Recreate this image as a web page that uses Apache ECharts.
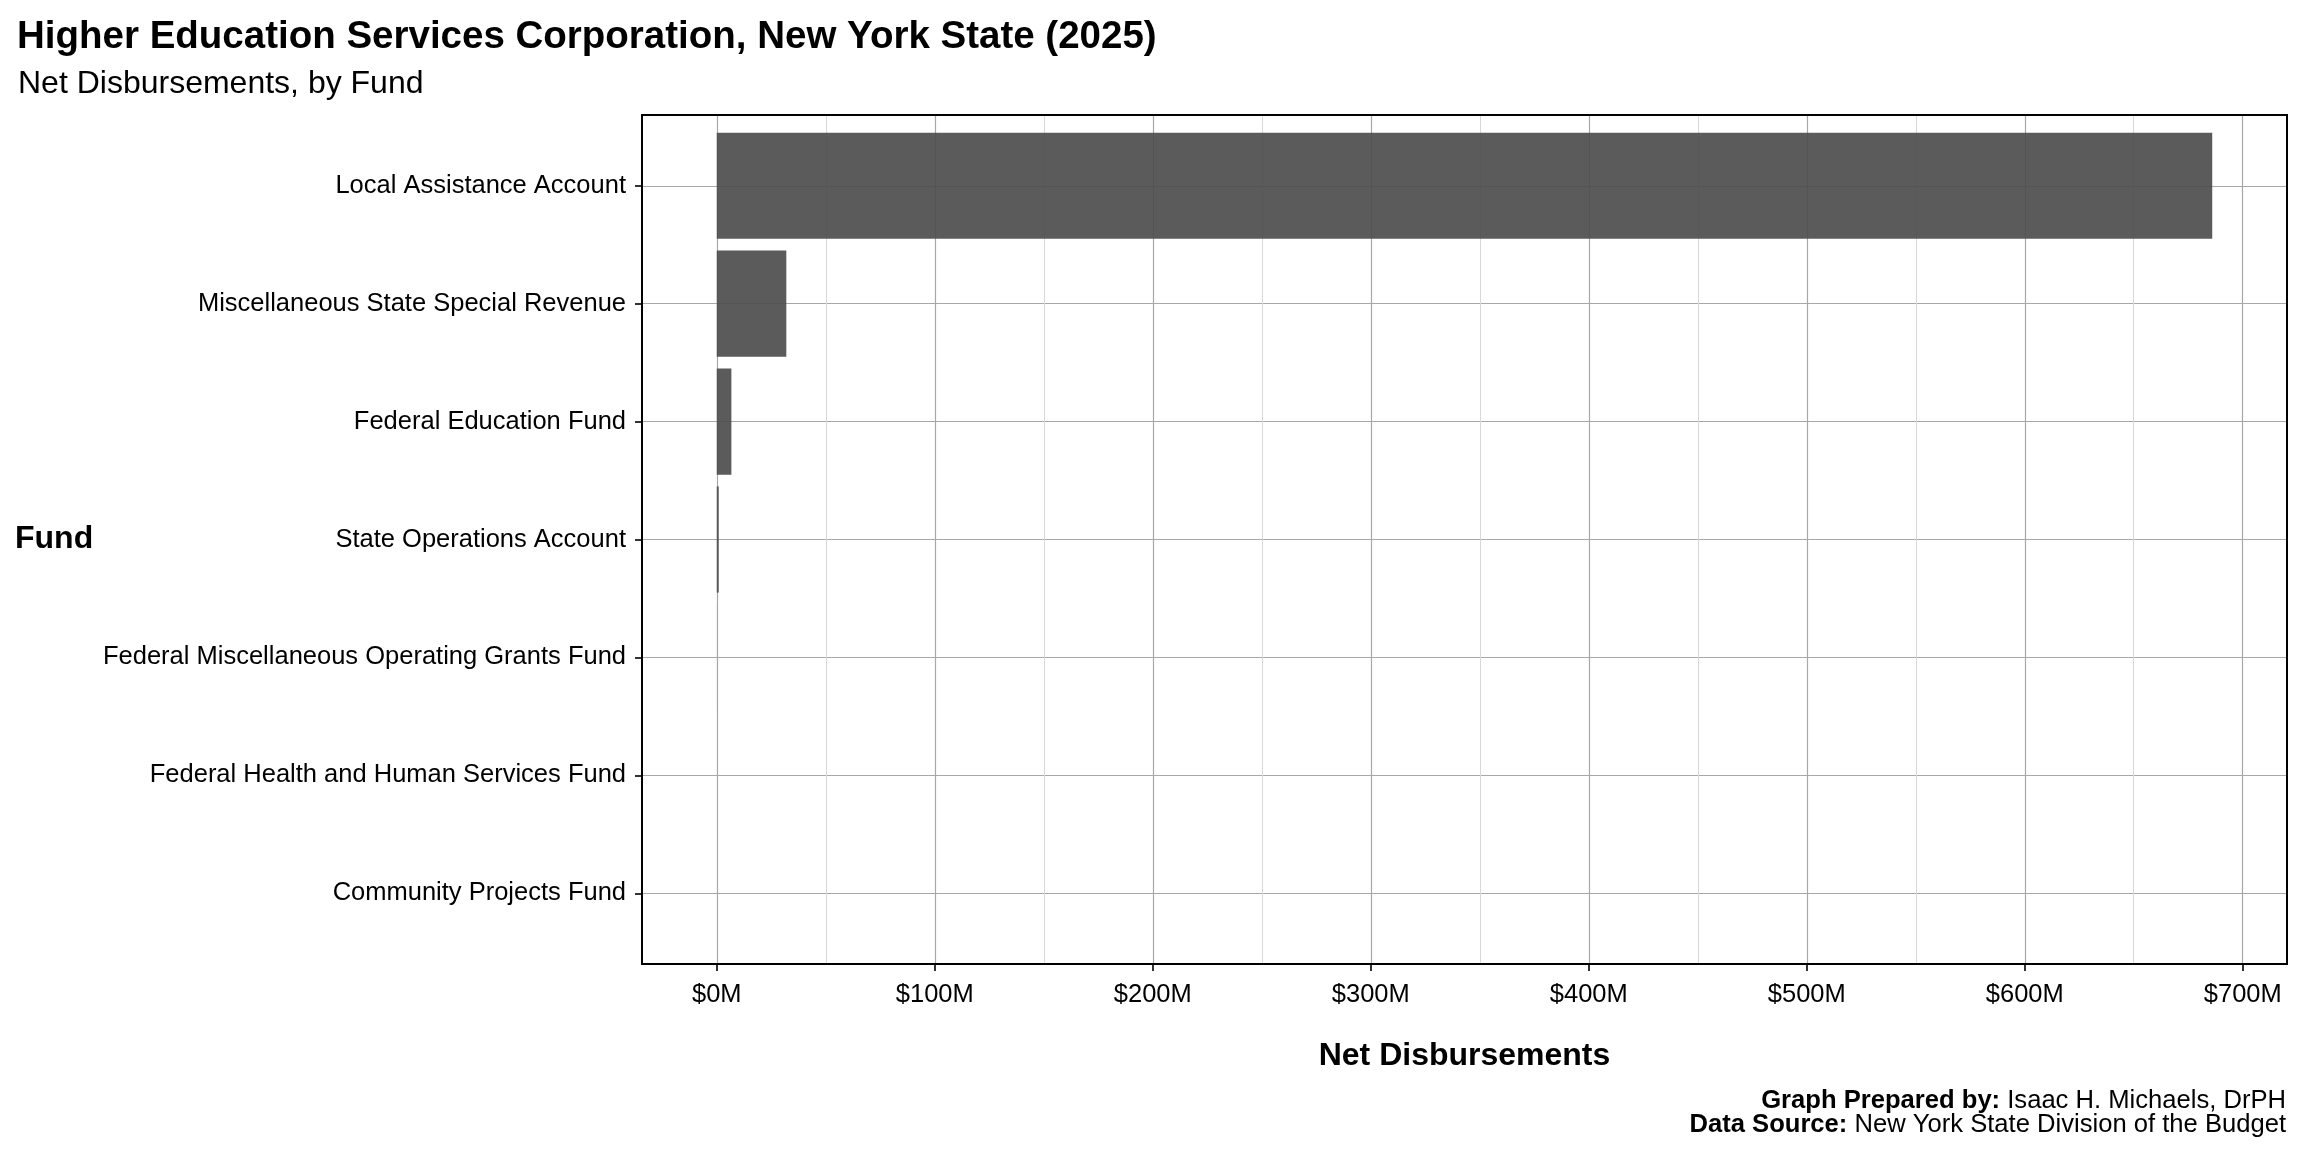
<!DOCTYPE html>
<html>
<head>
<meta charset="utf-8">
<script src="https://cdn.jsdelivr.net/npm/echarts@6/dist/echarts.min.js"></script>
<style>
  html, body { margin: 0; padding: 0; background: #ffffff; }
  #chart { width: 2304px; height: 1152px; }
</style>
</head>
<body>
<div id="chart"></div>
<script>
// ---- data (values in $ millions) ----
const funds = [
  "Local Assistance Account",
  "Miscellaneous State Special Revenue",
  "Federal Education Fund",
  "State Operations Account",
  "Federal Miscellaneous Operating Grants Fund",
  "Federal Health and Human Services Fund",
  "Community Projects Fund"
];
const netDisbursements = [686.0, 31.9, 6.7, 0.9, 0.01, 0.005, 0.002];
const xTickValues = [0, 100, 200, 300, 400, 500, 600, 700];

const titleText = "Higher Education Services Corporation, New York State (2025)";
const subtitleText = "Net Disbursements, by Fund";
const xTitle = "Net Disbursements";
const yTitle = "Fund";

const FONT = "'Liberation Sans', Helvetica, Arial, sans-serif";

// panel geometry (ggplot-like expansion)
const panel = { left: 642, top: 115, right: 2287, bottom: 964 };
const xMin = -34.3, xMax = 720.3;
const pxPerUnit = (panel.right - panel.left) / (xMax - xMin);
const zeroX = panel.left + (0 - xMin) * pxPerUnit;
const sevenX = panel.left + (700 - xMin) * pxPerUnit;
const bandUnit = (panel.bottom - panel.top) / (funds.length - 1 + 1.2);
const firstCenter = panel.top + 0.6 * bandUnit;
const lastCenter = panel.bottom - 0.6 * bandUnit;

const chart = echarts.init(document.getElementById('chart'), null, { renderer: 'canvas' });

const option = {
  backgroundColor: '#ffffff',
  animation: false,
  title: [
    { text: titleText, left: 12, top: 12,
      textStyle: { fontFamily: FONT, fontSize: 38.5, fontWeight: 'bold', color: '#000', lineHeight: 40 } },
    { text: subtitleText, left: 13, top: 62,
      textStyle: { fontFamily: FONT, fontSize: 32, fontWeight: 'normal', color: '#000', lineHeight: 34 } }
  ],
  grid: [
    // grid 0: x scale 0..700 spanning the full panel height (vertical gridlines, ticks, labels)
    { left: zeroX, top: panel.top, width: sevenX - zeroX, height: panel.bottom - panel.top, containLabel: false },
    // grid 1: bars + category axis (category centres at ticks)
    { left: panel.left, top: firstCenter, width: panel.right - panel.left, height: lastCenter - firstCenter, containLabel: false }
  ],
  xAxis: [
    {
      gridIndex: 0, type: 'value', min: 0, max: 700, interval: 100, position: 'bottom',
      axisLine: { show: false, onZero: false },
      axisTick: { show: true, length: 7, lineStyle: { color: '#333', width: 2 } },
      axisLabel: {
        show: true, margin: 18, fontFamily: FONT, fontSize: 25.5, color: '#000',
        formatter: v => xTickValues.indexOf(v) >= 0 ? ('$' + v + 'M') : ''
      },
      splitLine: { show: true, lineStyle: { color: '#a8a8a8', width: 1.2 } },
      minorTick: { show: false, splitNumber: 2 },
      minorSplitLine: { show: true, lineStyle: { color: '#d8d8d8', width: 1 } }
    },
    {
      gridIndex: 1, type: 'value', min: xMin, max: xMax, show: false,
      splitLine: { show: false }
    }
  ],
  yAxis: [
    { gridIndex: 0, type: 'value', show: false, min: 0, max: 1, splitLine: { show: false } },
    {
      gridIndex: 1, type: 'category', data: funds, inverse: true, boundaryGap: false, position: 'left',
      axisLine: { show: false, onZero: false },
      axisTick: { show: true, length: 7, lineStyle: { color: '#333', width: 2 } },
      axisLabel: { margin: 16, fontFamily: FONT, fontSize: 25.5, color: '#000' },
      splitLine: { show: true, lineStyle: { color: '#a8a8a8', width: 1.2 } }
    }
  ],
  series: [
    {
      type: 'bar', xAxisIndex: 1, yAxisIndex: 1,
      data: netDisbursements,
      barWidth: 0.9 * bandUnit,
      itemStyle: { color: 'rgba(77,77,77,0.92)' },
      z: 3
    }
  ],
  graphic: [
    {
      type: 'rect', silent: true, z: 100,
      shape: { x: panel.left, y: panel.top, width: panel.right - panel.left, height: panel.bottom - panel.top },
      style: { fill: 'none', stroke: '#000', lineWidth: 2 }
    },
    {
      type: 'text', silent: true, z: 100, x: 15, y: (panel.top + panel.bottom) / 2,
      style: { text: yTitle, font: 'bold 32px ' + FONT, fill: '#000', textAlign: 'left', textVerticalAlign: 'middle' }
    },
    {
      type: 'text', silent: true, z: 100, x: (panel.left + panel.right) / 2, y: 1056,
      style: { text: xTitle, font: 'bold 32px ' + FONT, fill: '#000', textAlign: 'center', textVerticalAlign: 'middle' }
    },
    {
      type: 'text', silent: true, z: 100, x: 2286, y: 1113,
      style: {
        text: '{b|Graph Prepared by:} {r|Isaac H. Michaels, DrPH}\n{b|Data Source:} {r|New York State Division of the Budget}',
        align: 'right', verticalAlign: 'middle',
        fontFamily: FONT, fontSize: 25.6, fill: '#000', lineHeight: 24,
        rich: {
          b: { fontFamily: FONT, fontSize: 25.6, fontWeight: 'bold', fill: '#000', lineHeight: 24 },
          r: { fontFamily: FONT, fontSize: 25.6, fontWeight: 'normal', fill: '#000', lineHeight: 24 }
        }
      }
    }
  ]
};

chart.setOption(option);
</script>
</body>
</html>
